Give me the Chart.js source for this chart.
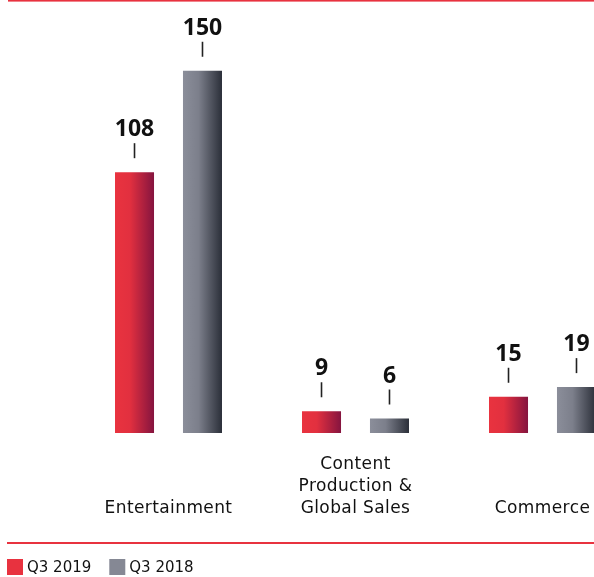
<!DOCTYPE html>
<html>
<head>
<meta charset="utf-8">
<script src="https://cdn.jsdelivr.net/npm/chart.js@4/dist/chart.umd.min.js"></script>
<style>
  html, body { margin: 0; padding: 0; background: #fff; overflow: hidden; }
  #wrap { position: relative; width: 594px; height: 577px; overflow: hidden; }
  canvas { position: absolute; left: 0; top: 0; }
</style>
</head>
<body>
<div id="wrap"><canvas id="c" width="640" height="577"></canvas></div>
<script>
// ---- Data ----
const categories = [
  ['', '', 'Entertainment'],
  ['Content', 'Production &', 'Global Sales'],
  ['', '', 'Commerce']
];
const seriesNames = ['Q3 2019', 'Q3 2018'];
const q3_2019 = [108, 9, 15];
const q3_2018 = [150, 6, 19];

// ---- Styles ----
const gradStops = [
  [[0, '#e9333f'], [0.38, '#e2303f'], [1, '#85143f']],
  [[0, '#8b8e9a'], [0.4, '#7c7f8b'], [1, '#2b2f39']]
];
const legendColors = ['#e8323f', '#858894'];
const RED_LINE = '#e8323f';
const TEXT = '#111111';

const spacingPlugin = {
  id: 'spacing',
  beforeDraw(chart) { chart.ctx.letterSpacing = '0.4px'; },
  beforeDatasetsDraw(chart) { chart.ctx.letterSpacing = '0px'; }
};

const gradientPlugin = {
  id: 'barGradient',
  beforeDatasetsDraw(chart) {
    const ctx = chart.ctx;
    chart.data.datasets.forEach((ds, di) => {
      const meta = chart.getDatasetMeta(di);
      meta.data.forEach(el => {
        const g = ctx.createLinearGradient(el.x - el.width / 2, 0, el.x + el.width / 2, 0);
        gradStops[di].forEach(s => g.addColorStop(s[0], s[1]));
        el.options = Object.assign({}, el.options, { backgroundColor: g });
      });
    });
  }
};

const valueLabelPlugin = {
  id: 'valueLabels',
  afterDatasetsDraw(chart) {
    const ctx = chart.ctx;
    ctx.save();
    ctx.letterSpacing = '0px';
    chart.data.datasets.forEach((ds, di) => {
      const meta = chart.getDatasetMeta(di);
      meta.data.forEach((el, i) => {
        const top = el.y;
        ctx.strokeStyle = '#222';
        ctx.lineWidth = 1.6;
        ctx.beginPath();
        ctx.moveTo(el.x, top - 29);
        ctx.lineTo(el.x, top - 14);
        ctx.stroke();
        ctx.fillStyle = TEXT;
        ctx.font = 'bold 23px "Open Sans"';
        ctx.textAlign = 'center';
        ctx.textBaseline = 'alphabetic';
        ctx.fillText(String(ds.data[i]), el.x, top - 36);
      });
    });
    ctx.restore();
  }
};

const framePlugin = {
  id: 'frame',
  afterDraw(chart) {
    const ctx = chart.ctx;
    ctx.save();
    ctx.letterSpacing = '0px';
    ctx.fillStyle = RED_LINE;
    ctx.fillRect(8, 0, chart.width, 1.6);
    ctx.fillRect(7, 542, chart.width, 2);
    // legend
    ctx.font = '15px "DejaVu Sans"';
    ctx.textBaseline = 'middle';
    ctx.textAlign = 'left';
    let x = 7;
    chart.data.datasets.forEach((ds, di) => {
      ctx.fillStyle = legendColors[di];
      ctx.fillRect(x, 559, 16, 16);
      ctx.fillStyle = TEXT;
      ctx.fillText(ds.label, x + 20, 568);
      x += 20 + ctx.measureText(ds.label).width + 18;
    });
    ctx.restore();
  }
};

new Chart(document.getElementById('c'), {
  type: 'bar',
  data: {
    labels: categories,
    datasets: [
      { label: seriesNames[0], data: q3_2019, backgroundColor: legendColors[0] },
      { label: seriesNames[1], data: q3_2018, backgroundColor: legendColors[1] }
    ]
  },
  options: {
    responsive: false,
    devicePixelRatio: 1,
    animation: false,
    events: [],
    categoryPercentage: 0.727,
    barPercentage: 0.574,
    layout: { padding: { left: 75, right: 4, top: 0, bottom: 0 } },
    plugins: { legend: { display: false }, tooltip: { enabled: false } },
    scales: {
      x: {
        grid: { display: false, drawTicks: false },
        border: { display: false },
        ticks: {
          color: TEXT,
          font: { family: '"DejaVu Sans"', size: 17, lineHeight: '22px' },
          padding: 21,
          maxRotation: 0,
          autoSkip: false
        },
        afterFit(s) { s.height = 144; }
      },
      y: {
        display: false,
        min: 0,
        max: 179.3
      }
    }
  },
  plugins: [spacingPlugin, gradientPlugin, valueLabelPlugin, framePlugin]
});
</script>
</body>
</html>
